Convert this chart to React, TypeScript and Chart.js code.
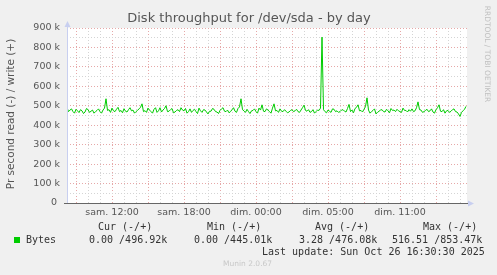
import React, { useEffect, useRef } from "react";
import { Chart, registerables } from "chart.js";

Chart.register(...registerables);

const TITLE = "Disk throughput for /dev/sda - by day";
const Y_TITLE = "Pr second read (-) / write (+)";
const SIDE_TEXT = "RRDTOOL / TOBI OETIKER";
const VERSION_TEXT = "Munin 2.0.67";

// x axis: hours relative to "sam. 09:00" (elapsed time, DST change on Sunday)
const X_MIN = -0.75;
const X_MAX = 32.583;
const STEP_HOURS = 0.125;

// write throughput samples, in kB/s
const writeK = [
  492, 470, 478, 484, 470, 462, 482, 474, 465, 480, 474, 460, 468, 486, 480, 466, 472, 478, 462, 470,
  476, 484, 470, 462, 478, 488, 536, 476, 480, 466, 488, 474, 470, 482, 492, 470, 476, 464, 485, 472,
  468, 480, 490, 474, 478, 462, 470, 476, 484, 492, 510, 470, 475, 466, 488, 478, 470, 462, 482, 490,
  466, 474, 490, 468, 478, 486, 500, 470, 472, 480, 486, 464, 468, 476, 480, 470, 490, 478, 474, 486,
  462, 470, 484, 466, 476, 482, 470, 460, 488, 474, 466, 480, 478, 468, 458, 472, 472, 486, 482, 470,
  468, 460, 476, 484, 490, 472, 470, 478, 464, 470, 480, 490, 472, 466, 486, 494, 536, 480, 474, 466,
  482, 470, 460, 474, 476, 484, 470, 462, 488, 478, 505, 472, 470, 484, 478, 470, 462, 488, 510, 474,
  476, 466, 484, 472, 470, 480, 472, 464, 468, 476, 480, 470, 474, 482, 470, 466, 478, 490, 503, 476,
  472, 480, 466, 470, 480, 462, 470, 478, 476, 488, 853, 480, 470, 464, 478, 472, 466, 484, 482, 470,
  474, 466, 470, 478, 480, 472, 468, 486, 507, 470, 478, 464, 486, 492, 505, 474, 476, 468, 482, 496,
  541, 478, 462, 470, 476, 484, 458, 466, 472, 478, 480, 470, 468, 482, 474, 464, 486, 476, 478, 470,
  482, 474, 470, 466, 488, 476, 476, 468, 480, 472, 484, 470, 474, 490, 520, 480, 478, 466, 470, 476,
  482, 470, 474, 484, 468, 462, 480, 490, 505, 472, 470, 480, 462, 474, 476, 466, 472, 480, 484, 470,
  468, 458, 445, 466, 474, 482, 497,
];

const xTickHours = [3, 9, 15, 21, 27];
const xTickLabels = ["sam. 12:00", "sam. 18:00", "dim. 00:00", "dim. 05:00", "dim. 11:00"];

const yTickValues = [0, 100000, 200000, 300000, 400000, 500000, 600000, 700000, 800000, 900000];
const yTickLabels = ["0 ", "100 k", "200 k", "300 k", "400 k", "500 k", "600 k", "700 k", "800 k", "900 k"];

const seriesName = "Bytes";
const legendHeaders = ["Cur (-/+)", "Min (-/+)", "Avg (-/+)", "Max (-/+)"];
const legendValues = ["0.00 /496.92k", "0.00 /445.01k", "3.28 /476.08k", "516.51 /853.47k"];
const lastUpdate = "Last update: Sun Oct 26 16:30:30 2025";

const GREEN = "#00cc00";
const MAJOR = "#e6a8a8";
const MINOR = "#d4d4d4";

const muninPlugin = {
  id: "munin",
  beforeDraw(chart: any) {
    const { ctx, chartArea: a, width, height } = chart;
    ctx.save();
    ctx.fillStyle = "#f0f0f0";
    ctx.fillRect(0, 0, width, height);
    ctx.fillStyle = "#ffffff";
    ctx.fillRect(a.left, a.top, a.right - a.left, a.bottom - a.top);
    ctx.restore();
  },
  afterDraw(chart: any) {
    const { ctx, chartArea: a } = chart;
    ctx.save();
    // axes
    ctx.lineWidth = 1;
    ctx.strokeStyle = "#c8cff0";
    ctx.beginPath();
    ctx.moveTo(a.left + 0.5, a.bottom);
    ctx.lineTo(a.left + 0.5, a.top - 4);
    ctx.stroke();
    ctx.fillStyle = "#c8cff0";
    ctx.beginPath();
    ctx.moveTo(a.left + 0.5, a.top - 7);
    ctx.lineTo(a.left - 2.5, a.top - 1);
    ctx.lineTo(a.left + 3.5, a.top - 1);
    ctx.closePath();
    ctx.fill();

    ctx.strokeStyle = "#666";
    ctx.beginPath();
    ctx.moveTo(a.left - 3, a.bottom + 0.5);
    ctx.lineTo(a.right + 3, a.bottom + 0.5);
    ctx.stroke();
    ctx.fillStyle = "#c8cff0";
    ctx.beginPath();
    ctx.moveTo(a.right + 7, a.bottom + 0.5);
    ctx.lineTo(a.right + 1, a.bottom - 2.5);
    ctx.lineTo(a.right + 1, a.bottom + 3.5);
    ctx.closePath();
    ctx.fill();

    // title
    ctx.fillStyle = "#555";
    ctx.font = "13px 'DejaVu Sans'";
    ctx.textAlign = "center";
    ctx.textBaseline = "middle";
    ctx.fillText(TITLE, 249, 19);

    // y title
    ctx.save();
    ctx.translate(11, 114);
    ctx.rotate(-Math.PI / 2);
    ctx.font = "10.5px 'DejaVu Sans'";
    ctx.fillStyle = "#555";
    ctx.fillText(Y_TITLE, 0, 0);
    ctx.restore();

    // side text
    ctx.save();
    ctx.translate(487, 54);
    ctx.rotate(Math.PI / 2);
    ctx.font = "7.5px 'DejaVu Sans'";
    ctx.fillStyle = "#c0c0c0";
    ctx.fillText(SIDE_TEXT, 0, 0);
    ctx.restore();

    // legend
    ctx.fillStyle = GREEN;
    ctx.fillRect(14, 237, 6, 6);
    ctx.font = "10px 'DejaVu Sans Mono'";
    ctx.fillStyle = "#333";
    ctx.textAlign = "left";
    ctx.fillText(seriesName, 26, 240);
    const headerX = [98, 207, 315, 423];
    const valueX = [89, 194, 299, 392];
    legendHeaders.forEach((h, i) => ctx.fillText(h, headerX[i], 227));
    legendValues.forEach((v, i) => ctx.fillText(v, valueX[i], 240));
    ctx.fillText(lastUpdate, 262, 252);

    ctx.font = "7.5px 'DejaVu Sans'";
    ctx.fillStyle = "#c8c8c8";
    ctx.fillText(VERSION_TEXT, 223, 264);
    ctx.restore();
  },
};

export default function App() {
  const ref = useRef<HTMLCanvasElement | null>(null);

  useEffect(() => {
    const canvas = ref.current;
    if (!canvas) return;
    const data = writeK.map((v, i) => ({ x: X_MIN + i * STEP_HOURS, y: v * 1000 }));
    const hourTicks: number[] = [];
    for (let h = 0; h <= 32; h++) hourTicks.push(h);
    const yGridTicks: number[] = [];
    for (let v = 0; v <= 900000; v += 50000) yGridTicks.push(v);

    const chart = new Chart(canvas, {
      type: "line",
      data: {
        datasets: [
          {
            label: seriesName,
            data,
            borderColor: GREEN,
            borderWidth: 1,
            pointRadius: 0,
            tension: 0,
            fill: false,
          },
        ],
      },
      plugins: [muninPlugin],
      options: {
        animation: false,
        responsive: false,
        maintainAspectRatio: false,
        layout: { padding: { top: 28, right: 30, left: 0, bottom: 0 } },
        plugins: { legend: { display: false }, tooltip: { enabled: false }, title: { display: false } },
        scales: {
          x: {
            type: "linear",
            min: X_MIN,
            max: X_MAX,
            afterFit: (s: any) => {
              s.height = 72;
            },
            afterBuildTicks: (s: any) => {
              s.ticks = hourTicks.map((v) => ({ value: v }));
            },
            ticks: {
              autoSkip: false,
              maxRotation: 0,
              minRotation: 0,
              padding: 4,
              color: "#555",
              font: { family: "'DejaVu Sans'", size: 9.5 },
              callback: (value: any) => {
                const idx = xTickHours.indexOf(Number(value));
                return idx >= 0 ? xTickLabels[idx] : "";
              },
            },
            grid: {
              drawTicks: false,
              color: (c: any) => (c.tick && c.tick.value % 3 === 0 ? MAJOR : MINOR),
              lineWidth: 1,
            },
            border: { display: false, dash: [1, 2] },
          },
          y: {
            type: "linear",
            min: 0,
            max: 900000,
            afterFit: (s: any) => {
              s.width = 67;
            },
            afterBuildTicks: (s: any) => {
              s.ticks = yGridTicks.map((v) => ({ value: v }));
            },
            ticks: {
              autoSkip: false,
              padding: 7,
              color: "#555",
              font: { family: "'DejaVu Sans'", size: 9.5 },
              callback: (value: any) => {
                const idx = yTickValues.indexOf(Number(value));
                return idx >= 0 ? yTickLabels[idx] : "";
              },
            },
            grid: {
              drawTicks: false,
              color: (c: any) =>
                c.tick && c.tick.value === 0 ? "rgba(0,0,0,0)" : c.tick && c.tick.value % 100000 === 0 ? MAJOR : MINOR,
              lineWidth: 1,
            },
            border: { display: false, dash: [1, 2] },
          },
        },
      },
    } as any);

    return () => chart.destroy();
  }, []);

  return (
    <div style={{ position: "absolute", left: 0, top: 0, width: 497, height: 275 }}>
      <canvas ref={ref} width={497} height={275} style={{ display: "block", width: 497, height: 275 }} />
    </div>
  );
}
